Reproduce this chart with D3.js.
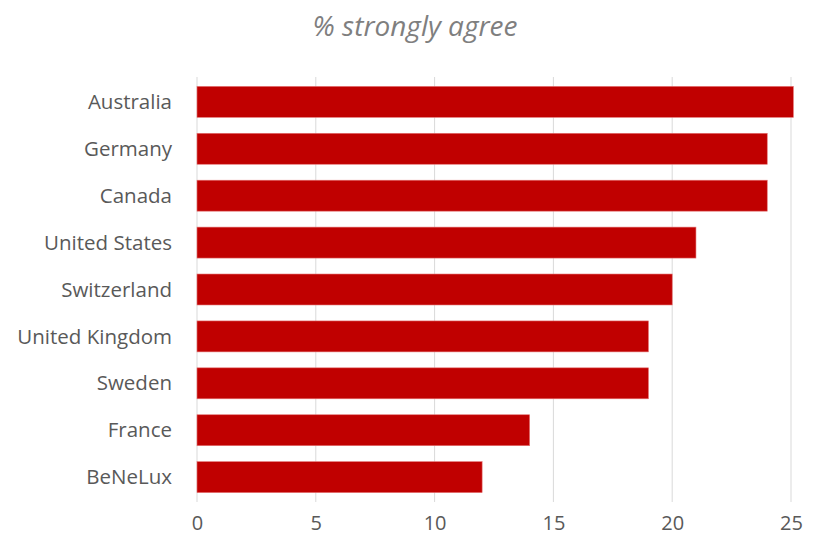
<!DOCTYPE html>
<html>
<head>
<meta charset="utf-8">
<script src="https://cdn.jsdelivr.net/npm/d3@7"></script>
<style>
  body { margin: 0; background: #fff; }
  text { font-family: "Open Sans", sans-serif; fill: #595959; }
</style>
</head>
<body>
<div id="chart-container"></div>
<script>
// Data
const countries = ["Australia", "Germany", "Canada", "United States", "Switzerland",
    "United Kingdom", "Sweden", "France", "BeNeLux"];
const values = [25.1, 24, 24, 21, 20, 19, 19, 14, 12];
const xTicks = [0, 5, 10, 15, 20, 25];

const W = 816, H = 542;
const margin = { top: 77, right: 25, bottom: 40, left: 197 };
const plotW = 791 - margin.left, plotH = 502 - margin.top;

const svg = d3.select("#chart-container")
    .append("svg")
    .attr("width", W)
    .attr("height", H);

// Title
svg.append("text")
    .attr("x", 415)
    .attr("y", 36)
    .attr("text-anchor", "middle")
    .style("font-size", "28px")
    .style("font-style", "italic")
    .style("fill", "#7f7f7f")
    .text("% strongly agree");

const g = svg.append("g")
    .attr("transform", `translate(${margin.left},${margin.top})`);

const x = d3.scaleLinear().domain([0, 25]).range([0, plotW]);
const y = d3.scaleBand().domain(countries).range([0, plotH]).paddingInner(0.34).paddingOuter(0.2);

// Gridlines
g.selectAll("line.grid")
    .data(xTicks)
    .enter()
    .append("line")
    .attr("class", "grid")
    .attr("x1", d => x(d)).attr("x2", d => x(d))
    .attr("y1", 0).attr("y2", plotH)
    .style("stroke", "#d9d9d9")
    .style("stroke-width", 1);

// Bars
g.selectAll("rect.bar")
    .data(countries)
    .enter()
    .append("rect")
    .attr("class", "bar")
    .attr("x", x(0))
    .attr("y", d => y(d))
    .attr("width", (d, i) => x(values[i]) - x(0))
    .attr("height", y.bandwidth())
    .style("fill", "#c00000")
    .style("stroke", "#e57373")
    .style("stroke-width", 0.6);

// Category labels
g.selectAll("text.cat")
    .data(countries)
    .enter()
    .append("text")
    .attr("class", "cat")
    .attr("x", -25)
    .attr("y", d => y(d) + y.bandwidth() / 2)
    .attr("dy", "0.35em")
    .attr("text-anchor", "end")
    .style("font-size", "20.5px")
    .text(d => d);

// X axis labels
const xAxis = d3.axisBottom(x).tickValues(xTicks).tickSize(0).tickPadding(14);
const ax = g.append("g")
    .attr("transform", `translate(0,${plotH})`)
    .call(xAxis);
ax.select(".domain").remove();
ax.selectAll("text")
    .style("font-size", "20px")
    .style("font-family", "'Open Sans', sans-serif")
    .style("fill", "#595959");
</script>
</body>
</html>
